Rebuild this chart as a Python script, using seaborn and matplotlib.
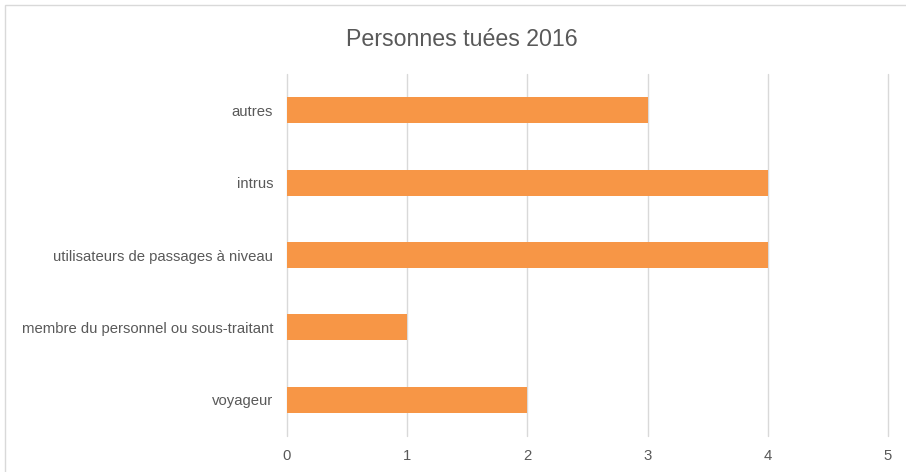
import matplotlib
matplotlib.use("Agg")
import matplotlib.pyplot as plt
import seaborn as sns
import pandas as pd
from matplotlib.patches import Rectangle

categories = ["autres", "intrus", "utilisateurs de passages à niveau",
              "membre du personnel ou sous-traitant", "voyageur"]
values = [3, 4, 4, 1, 2]
xticks = [0, 1, 2, 3, 4, 5]
title = "Personnes tuées 2016"

sns.set_theme(style="white")
plt.rcParams['font.family'] = ['Liberation Sans', 'DejaVu Sans']

df = pd.DataFrame({"cat": categories, "val": values})

fig = plt.figure(figsize=(9.06, 4.72), dpi=100)
ax = fig.add_axes([287/906, 1-436/472, (888-287)/906, (436-74)/472])

sns.barplot(data=df, x="val", y="cat", order=categories, color="#F79646",
            width=0.36, saturation=1, ax=ax, zorder=3, linewidth=0)

ax.set_xlim(0, 5)
ax.set_xticks(xticks)
ax.set_xticklabels([str(t) for t in xticks])
ax.grid(axis="x", color="#D9D9D9", linewidth=1, zorder=0)
for gl in ax.get_xgridlines():
    gl.set_clip_on(False)
ax.set_axisbelow(True)
for s in ax.spines.values():
    s.set_visible(False)
ax.set_xlabel("")
ax.set_ylabel("")
ax.tick_params(axis="both", length=0, labelsize=10.7, labelcolor="#595959")
ax.tick_params(axis="x", pad=9)
ax.tick_params(axis="y", pad=10)

fig.text(462/906, 1-40/472, title, ha="center", va="center",
         fontsize=16.7, color="#595959")

fig.patches.append(Rectangle((5/906, -0.1), 1.2, 1-5/472+0.1,
                             transform=fig.transFigure, fill=False,
                             edgecolor="#D9D9D9", linewidth=1, zorder=-1))

fig.savefig("out.png", dpi=100)
